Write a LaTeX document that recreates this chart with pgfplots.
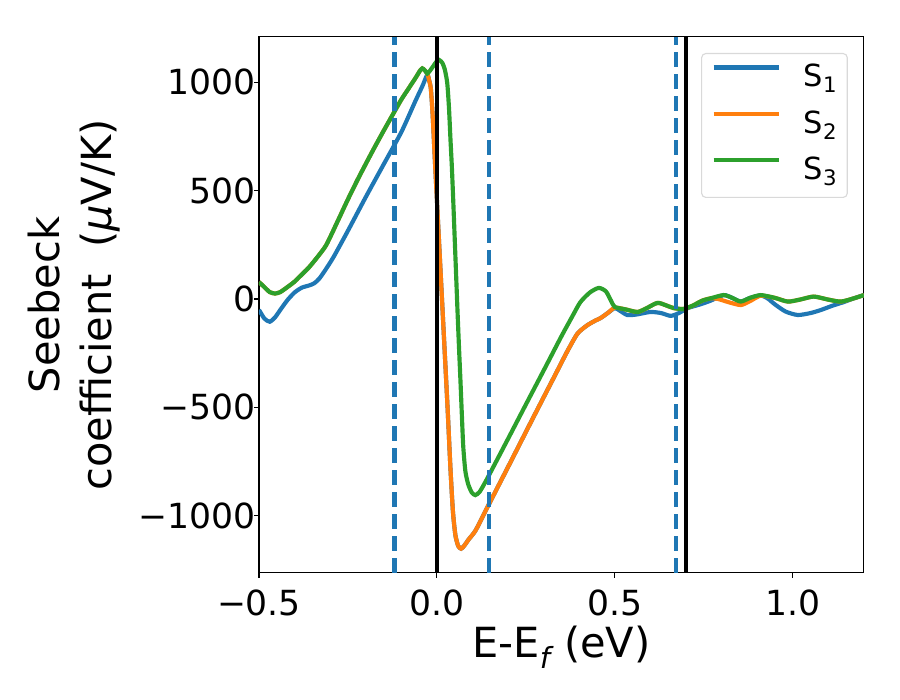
\documentclass[border=0pt]{standalone}
\usepackage{fontspec}
\setmainfont{DejaVu Sans}
\usepackage{pgfplots}
\pgfplotsset{compat=1.18}
\definecolor{tabblue}{HTML}{1F77B4}
\definecolor{taborange}{HTML}{FF7F0E}
\definecolor{tabgreen}{HTML}{2CA02C}
\begin{document}
\begin{tikzpicture}
\useasboundingbox (-187.2pt,-91.8pt) rectangle (463.3pt,414.1pt);
\begin{axis}[
  at={(0,0)}, anchor=south west,
  scale only axis, width=437.2pt, height=387.4pt,
  xmin=-0.5, xmax=1.2, ymin=-1264, ymax=1209,
  axis line style={line width=0.8pt},
  tick style={line width=0.8pt, black},
  major tick length=3.5pt,
  tick align=outside,
  xtick pos=bottom, ytick pos=left,
  xtick={-0.5,0,0.5,1.0},
  xticklabels={−0.5,0.0,0.5,1.0},
  ytick={-1000,-500,0,500,1000},
  yticklabels={−1000,−500,0,500,1000},
  ticklabel style={font=\fontsize{25}{30}\selectfont},
  xticklabel style={anchor=north, inner sep=0pt, yshift=-8.7pt},
  yticklabel style={anchor=east, inner sep=0pt, xshift=1.3pt},
  xlabel={E-E\textit{\textsubscript{f}} (eV)},
  every axis x label/.style={at={(rel axis cs:0.5,0)}, anchor=base, yshift=-61.4pt, font=\fontsize{30}{36}\selectfont},
  ylabel={Seebeck\\coefficient\ \ (\textit{μ}V/K)},
  every axis y label/.style={at={(rel axis cs:0,0.5)}, rotate=90, anchor=center, yshift=133.7pt, align=center, font=\fontsize{30}{37.6}\selectfont},
  legend style={at={(rel axis cs:1,1)}, anchor=north east, xshift=-11.6pt, yshift=-11.6pt,
    draw=black!15, line width=0.8pt, rounded corners=3pt, fill=white, fill opacity=0.8, text opacity=1,
    font=\fontsize{22}{26}\selectfont, inner xsep=7.2pt, inner ysep=8pt, row sep=12.5pt, column sep=16.6pt,
    nodes={inner sep=0pt, text height=16pt, text depth=5pt}},
  legend cell align=left,
  legend image code/.code={\draw[#1, line width=3pt] (0pt,8.4pt) -- (47pt,8.4pt);},
  clip=true,
]
% S1
\addplot[tabblue, line width=3pt, smooth, tension=0.4] coordinates {
(-0.5,-50) (-0.485,-90) (-0.47,-105) (-0.455,-85) (-0.44,-50) (-0.42,-5) (-0.40,30)
(-0.38,52) (-0.36,62) (-0.345,72) (-0.33,95) (-0.311,140) (-0.29,195) (-0.25,315)
(-0.2,470) (-0.15,620) (-0.1,770) (-0.06,915) (-0.04,985) (-0.027,1035)
(-0.022,1010) (-0.017,970) (-0.012,850) (-0.006,650) (0.0,457) (0.01,137) (0.02,-183)
(0.03,-503) (0.038,-780) (0.045,-980) (0.052,-1090) (0.06,-1140) (0.068,-1152)
(0.076,-1140) (0.09,-1108) (0.108,-1070) (0.13,-1000) (0.145,-951) (0.2,-775)
(0.272,-543) (0.33,-358) (0.366,-243) (0.395,-160) (0.422,-122) (0.445,-100)
(0.46,-88) (0.48,-65) (0.5,-42) (0.515,-55) (0.535,-74) (0.56,-72) (0.6,-60)
(0.63,-65) (0.657,-78) (0.68,-65) (0.705,-42) (0.74,-25) (0.769,-8) (0.806,18)
(0.83,5) (0.854,-12) (0.88,5) (0.91,16) (0.93,2) (0.95,-25) (0.98,-58) (1.014,-74)
(1.05,-65) (1.079,-51) (1.11,-32) (1.144,-14) (1.17,2) (1.2,18)
};
\addlegendentry{S\textsubscript{1}}
% S2
\addplot[taborange, line width=3pt, smooth, tension=0.4] coordinates {
(-0.5,78) (-0.485,55) (-0.47,32) (-0.455,25) (-0.44,32) (-0.42,55) (-0.40,80)
(-0.387,101) (-0.36,145) (-0.335,195) (-0.311,249) (-0.28,355) (-0.25,460)
(-0.219,563) (-0.18,685) (-0.15,775) (-0.126,845) (-0.1,920) (-0.078,975)
(-0.06,1020) (-0.048,1052) (-0.041,1064) (-0.034,1055) (-0.027,1040)
(-0.022,1010) (-0.017,970) (-0.012,850) (-0.006,650) (0.0,457) (0.01,137) (0.02,-183)
(0.03,-503) (0.038,-780) (0.045,-980) (0.052,-1090) (0.06,-1140) (0.068,-1152)
(0.076,-1140) (0.09,-1108) (0.108,-1070) (0.13,-1000) (0.145,-951) (0.2,-775)
(0.272,-543) (0.33,-358) (0.366,-243) (0.395,-160) (0.422,-122) (0.445,-100)
(0.46,-88) (0.48,-65) (0.5,-40) (0.53,-48) (0.564,-60) (0.59,-42) (0.62,-18)
(0.645,-30) (0.665,-42) (0.693,-46) (0.72,-30) (0.745,-8) (0.769,3) (0.79,0)
(0.82,-15) (0.854,-28) (0.88,-10) (0.91,15) (0.95,5) (0.986,-12) (1.02,-3)
(1.059,11) (1.1,-3) (1.135,-12) (1.17,2) (1.2,18)
};
\addlegendentry{S\textsubscript{2}}
% S3
\addplot[tabgreen, line width=3pt, smooth, tension=0.4] coordinates {
(-0.5,78) (-0.485,55) (-0.47,32) (-0.455,25) (-0.44,32) (-0.42,55) (-0.40,80)
(-0.387,101) (-0.36,145) (-0.335,195) (-0.311,249) (-0.28,355) (-0.25,460)
(-0.219,563) (-0.18,685) (-0.15,775) (-0.126,845) (-0.1,920) (-0.078,975)
(-0.06,1020) (-0.048,1052) (-0.041,1064) (-0.034,1055) (-0.027,1040)
(-0.02,1052) (-0.01,1075) (0.0,1098) (0.006,1103) (0.015,1090) (0.022,1060)
(0.029,997) (0.034,880) (0.038,740) (0.042,610) (0.046,450) (0.050,280) (0.054,110)
(0.058,-60) (0.062,-220) (0.066,-370) (0.070,-530) (0.074,-680) (0.08,-795)
(0.088,-855) (0.098,-893) (0.108,-905) (0.12,-890) (0.136,-845) (0.164,-758)
(0.2,-645) (0.25,-487) (0.3,-330) (0.35,-172) (0.38,-82) (0.403,-15) (0.43,30)
(0.455,51) (0.475,35) (0.49,-10) (0.5,-37) (0.53,-48) (0.564,-60) (0.59,-42) (0.62,-18)
(0.645,-30) (0.665,-42) (0.693,-46) (0.72,-30) (0.745,-8) (0.769,3) (0.806,18)
(0.83,5) (0.854,-12) (0.88,5) (0.91,18) (0.95,5) (0.986,-12) (1.02,-3)
(1.059,11) (1.1,-3) (1.135,-12) (1.17,2) (1.2,18)
};
\addlegendentry{S\textsubscript{3}}
% vertical lines
\addplot[black, line width=3pt, forget plot] coordinates {(0,-1400) (0,1400)};
\addplot[black, line width=3pt, forget plot] coordinates {(0.7,-1400) (0.7,1400)};
\addplot[tabblue, line width=3pt, dash pattern=on 11.1pt off 4.8pt, forget plot] coordinates {(-0.119,-1264) (-0.119,1209)};
\addplot[tabblue, line width=3pt, dash pattern=on 11.1pt off 4.8pt, forget plot] coordinates {(0.147,-1264) (0.147,1209)};
\addplot[tabblue, line width=3pt, dash pattern=on 11.1pt off 4.8pt, forget plot] coordinates {(0.671,-1264) (0.671,1209)};
\end{axis}
\end{tikzpicture}
\end{document}
